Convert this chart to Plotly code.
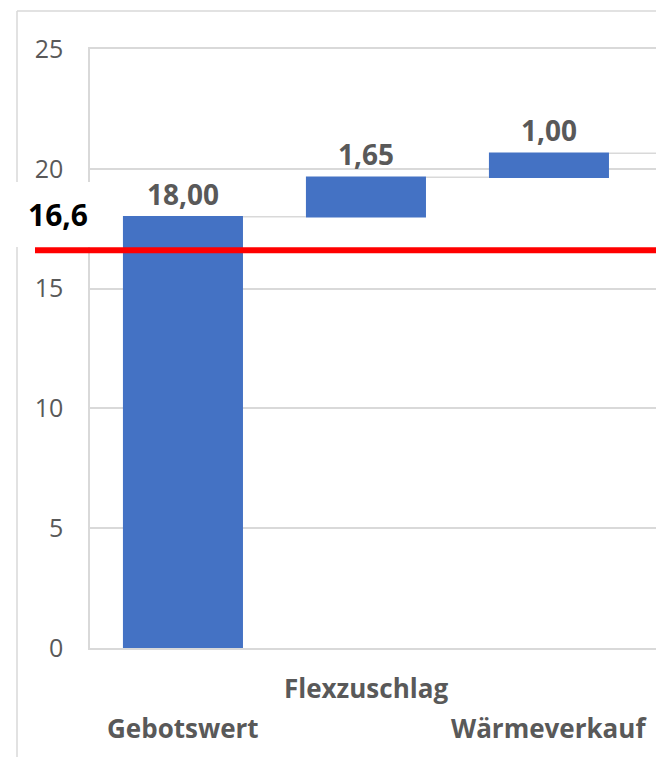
import plotly.graph_objects as go

# --- data -------------------------------------------------------------
categories = ["Gebotswert", "Flexzuschlag", "Wärmeverkauf"]
values = [18.00, 1.65, 1.00]
measures = ["absolute", "relative", "relative"]
reference_value = 16.6
y_ticks = [0, 5, 10, 15, 20, 25]

# --- style ------------------------------------------------------------
FONT = "Open Sans"
GREY_TEXT = "#595959"
GRID = "#d9d9d9"
BLUE = "#4472C4"
BAR_WIDTH = 0.656
X_RANGE = [-0.508, 2.585]
Y_RANGE = [0, 25]

W, H = 656, 759
M_L, M_R, M_T, M_B = 90, 0, 49, 111
plot_w = W - M_L - M_R
plot_h = H - M_T - M_B


def de_num(v, nd):
    """German decimal formatting (comma separator)."""
    return f"{v:.{nd}f}".replace(".", ",")


def px_x(px):
    """Horizontal pixel -> paper coordinate."""
    return (px - M_L) / plot_w


def px_y(py):
    """Vertical pixel -> paper coordinate."""
    return (H - M_B - py) / plot_h


fig = go.Figure(
    go.Waterfall(
        x=categories,
        y=values,
        measure=measures,
        text=[f"<b>{de_num(v, 2)}</b>" for v in values],
        textposition="outside",
        textfont=dict(family=FONT, size=28, color=GREY_TEXT),
        increasing=dict(marker=dict(color=BLUE)),
        decreasing=dict(marker=dict(color=BLUE)),
        totals=dict(marker=dict(color=BLUE)),
        connector=dict(mode="between", line=dict(color=GRID, width=1.5)),
        width=BAR_WIDTH,
        cliponaxis=False,
        showlegend=False,
        hoverinfo="skip",
    )
)

total = sum(values)
shapes = [
    # connector continuing after the last step
    dict(type="line", xref="x", yref="y",
         x0=len(values) - 1 + BAR_WIDTH / 2, x1=X_RANGE[1], y0=total, y1=total,
         line=dict(color=GRID, width=1.5), layer="below"),
    # outer chart frame (left and top edges)
    dict(type="line", xref="paper", yref="paper",
         x0=px_x(17), x1=px_x(17), y0=px_y(757), y1=px_y(11),
         line=dict(color=GRID, width=1.5), layer="below"),
    dict(type="line", xref="paper", yref="paper",
         x0=px_x(17), x1=1.0, y0=px_y(11), y1=px_y(11),
         line=dict(color=GRID, width=1.5), layer="below"),
    # white box behind the reference label
    dict(type="rect", xref="paper", yref="paper",
         x0=px_x(0), x1=px_x(93), y0=px_y(247), y1=px_y(182),
         fillcolor="white", line=dict(width=0), layer="above"),
    # reference line
    dict(type="line", xref="paper", yref="y",
         x0=px_x(35), x1=1.0, y0=reference_value, y1=reference_value,
         line=dict(color="#ff0000", width=6), layer="above"),
]

annotations = [
    dict(text=f"<b>{de_num(reference_value, 1)}</b>", xref="paper", yref="paper",
         x=px_x(58), y=px_y(214), xanchor="center", yanchor="middle",
         showarrow=False, font=dict(family=FONT, size=30, color="black")),
]
# staggered category labels
for i, cat in enumerate(categories):
    annotations.append(dict(
        text=f"<b>{cat}</b>", xref="x", yref="paper", x=cat, y=0,
        yanchor="middle", xanchor="center", showarrow=False,
        yshift=-(40 if i % 2 else 80),
        font=dict(family=FONT, size=26, color=GREY_TEXT),
    ))

fig.update_layout(
    width=W, height=H, autosize=False,
    margin=dict(l=M_L, r=M_R, t=M_T, b=M_B, pad=0),
    paper_bgcolor="white", plot_bgcolor="white",
    shapes=shapes, annotations=annotations,
    xaxis=dict(range=X_RANGE, showticklabels=False, showgrid=False,
               showline=True, mirror=True, linecolor=GRID, linewidth=1.5,
               zeroline=False, fixedrange=True),
    yaxis=dict(range=Y_RANGE, tickvals=y_ticks, ticktext=[str(t) for t in y_ticks],
               showgrid=True, gridcolor=GRID, gridwidth=1.5,
               showline=True, linecolor=GRID, linewidth=1.5, zeroline=False,
               ticks="", ticklabelstandoff=20,
               tickfont=dict(family=FONT, size=25, color=GREY_TEXT)),
)

fig.write_html("out.html")
